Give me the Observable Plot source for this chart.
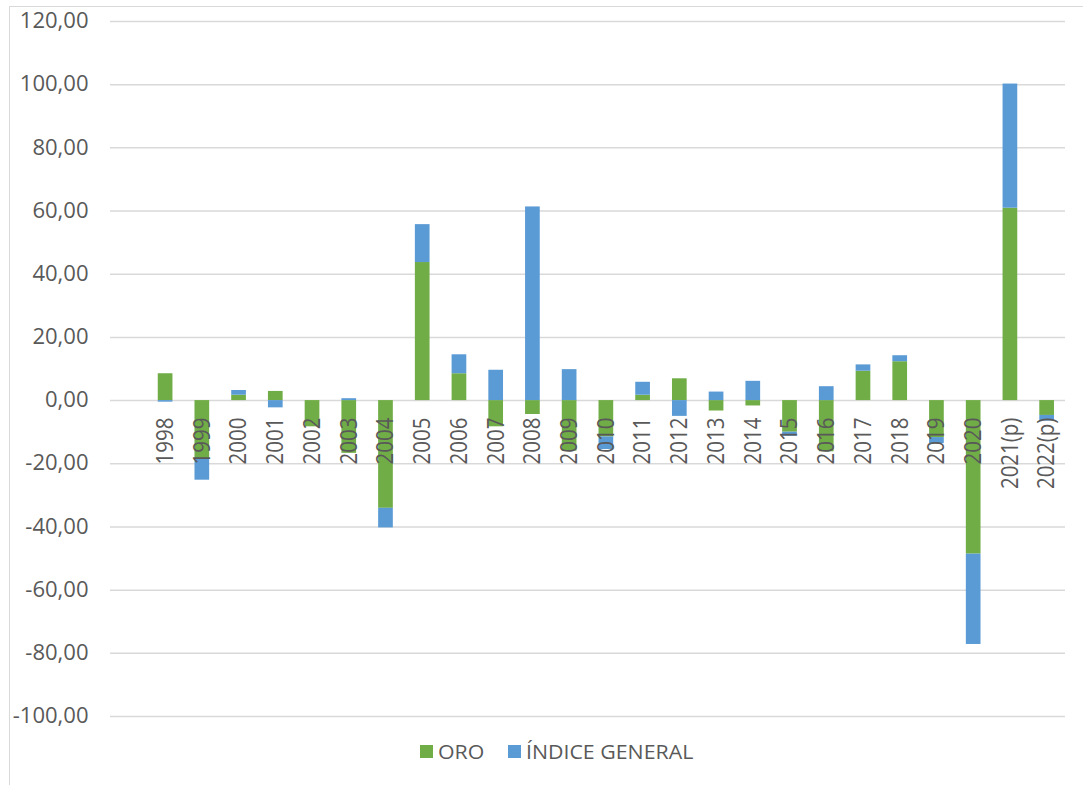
<!DOCTYPE html>
<html>
<head>
<meta charset="utf-8">
<script src="https://cdn.jsdelivr.net/npm/d3@7"></script>
<script src="https://cdn.jsdelivr.net/npm/@observablehq/plot@0.6"></script>
<style>
  html, body { margin: 0; padding: 0; background: #fff; overflow: hidden; }
  body { width: 1083px; height: 785px; position: relative; font-family: "Open Sans", sans-serif; }
  #frame { position: absolute; left: 9px; top: 6px; width: 1100px; height: 800px; border: 1.5px solid #d9d9d9; box-sizing: border-box; }
  #chart { position: absolute; left: 0; top: 0; }
  #legend { position: absolute; top: 737px; left: 0; width: 1083px; height: 28px; color: #595959; font-size: 20.5px; }
  .item { position: absolute; top: 0; display: flex; align-items: center; height: 28px; }
  .sw { width: 13px; height: 13px; margin-right: 5px; }
  .txt { display: inline-block; transform-origin: left center; }
</style>
</head>
<body>
<div id="frame"></div>
<div id="chart"></div>
<div id="legend"></div>
<script>
const years = ["1998","1999","2000","2001","2002","2003","2004","2005","2006","2007","2008","2009","2010","2011","2012","2013","2014","2015","2016","2017","2018","2019","2020","2021(p)","2022(p)"];
const oro = [8.5, -18.6, 1.7, 2.9, -8.3, -16.7, -34.1, 43.7, 8.5, -8.3, -4.4, -16.0, -11.5, 1.7, 6.9, -3.3, -1.7, -10.0, -16.2, 9.3, 12.3, -11.7, -48.6, 60.9, -4.7];
const indiceGeneral = [-0.5, -6.6, 1.5, -2.3, 0.0, 0.6, -6.2, 12.0, 6.0, 9.6, 61.3, 9.8, -4.0, 4.1, -5.0, 2.7, 6.1, -1.3, 4.4, 2.0, 1.9, -1.9, -28.6, 39.3, -1.8];
const series = ["ORO", "ÍNDICE GENERAL"];
const colors = ["#70AD47", "#5B9BD5"];
const yTicks = [-100, -80, -60, -40, -20, 0, 20, 40, 60, 80, 100, 120];

const data = years.flatMap((y, i) => [
  {year: y, serie: series[0], value: oro[i]},
  {year: y, serie: series[1], value: indiceGeneral[i]}
]);

const chart = Plot.plot({
  width: 1083,
  height: 730,
  marginLeft: 110,
  marginRight: 18,
  marginTop: 21,
  marginBottom: 14,
  style: {fontFamily: "'Open Sans', sans-serif", fontSize: "21px", color: "#595959", background: "transparent"},
  x: {domain: ["", ...years], paddingInner: 0.6, paddingOuter: 0.3, round: false, axis: null},
  y: {domain: [-100, 120], ticks: yTicks, tickFormat: d => d.toFixed(2).replace(".", ","), tickSize: 0, tickPadding: 22, label: null},
  color: {domain: series, range: colors},
  marks: [
    Plot.ruleY(yTicks, {stroke: "#d9d9d9", strokeWidth: 1.5}),
    Plot.barY(data, {x: "year", y: "value", fill: "serie"}),
    Plot.text(years, {x: d => d, y: 0, text: d => d, rotate: -90, textAnchor: "end", dy: 17, fontSize: 20.5, fill: "#595959", className: "yearlab"})
  ]
});
document.getElementById("chart").appendChild(chart);

// widen the rotated year labels slightly across, as in the reference
d3.select(chart).selectAll(".yearlab text").each(function() {
  const t = this.getAttribute("transform") || "";
  this.setAttribute("transform", t + " scale(1,1.12)");
});
// widen y tick labels slightly
d3.select(chart).selectAll("g[aria-label='y-axis tick label'] text, g[aria-label='y-axis'] text").each(function() {
  const t = this.getAttribute("transform") || "";
  if (!/scale/.test(t)) this.setAttribute("transform", t + " scale(1.05,1)");
});

const legend = document.getElementById("legend");
const lx = [420, 508];
series.forEach((s, i) => {
  const it = document.createElement("div");
  it.className = "item";
  it.style.left = lx[i] + "px";
  it.innerHTML = `<span class="sw" style="background:${colors[i]}"></span><span class="txt" style="transform:scaleX(1.04)">${s}</span>`;
  legend.appendChild(it);
});
</script>
</body>
</html>
